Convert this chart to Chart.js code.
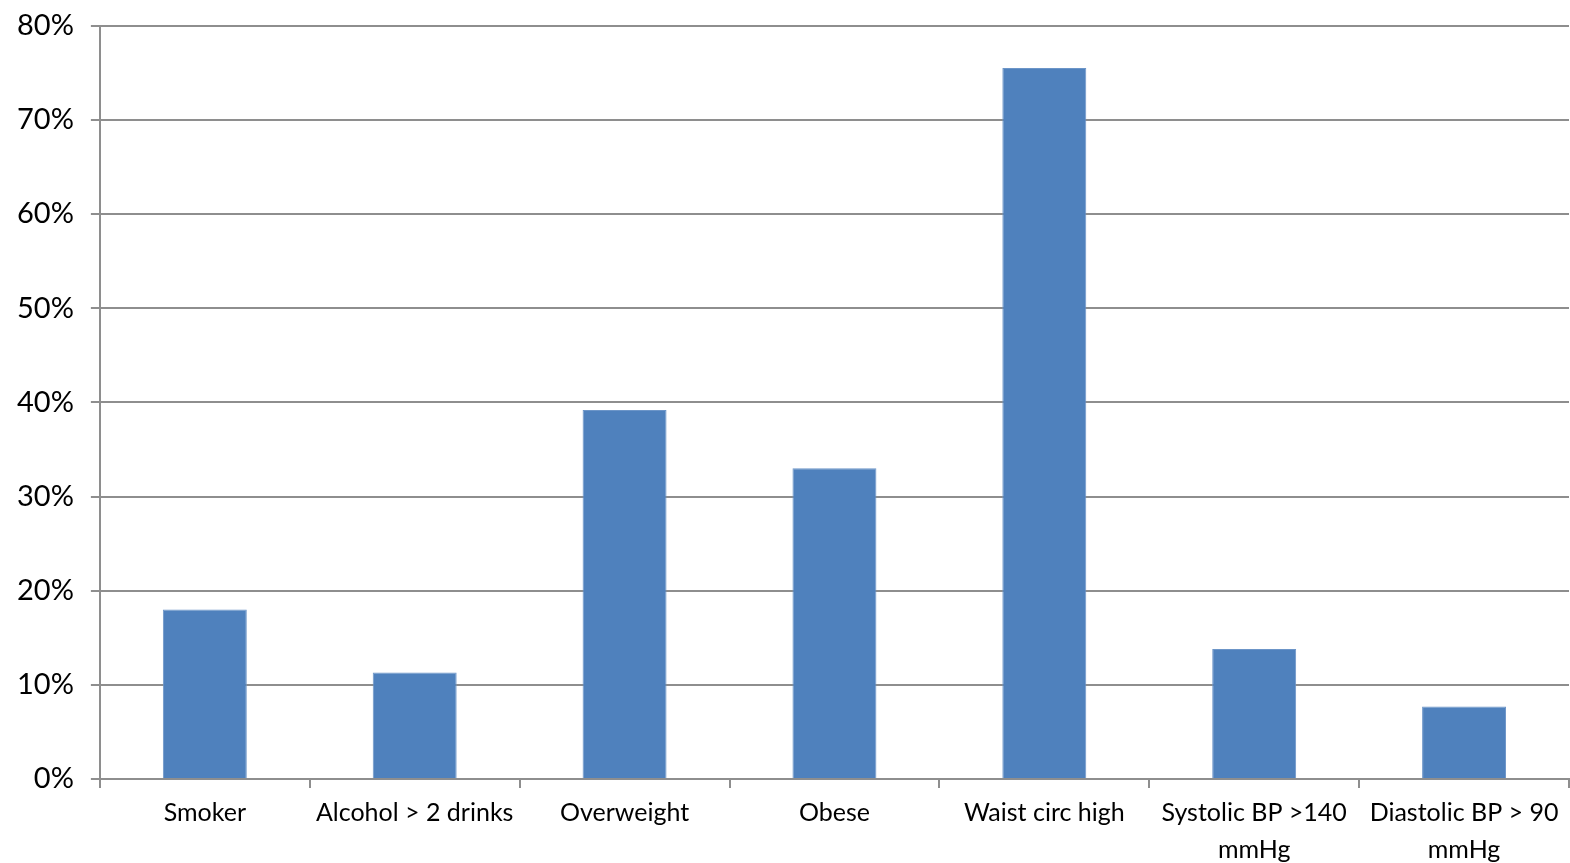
<!DOCTYPE html>
<html>
<head>
<meta charset="utf-8">
<script src="https://cdn.jsdelivr.net/npm/chart.js@4"></script>
<style>
  html, body { margin: 0; padding: 0; background: #fff; overflow: hidden; }
  #wrap { width: 1570px; height: 863px; position: relative; }
</style>
</head>
<body>
<div id="wrap"><canvas id="c"></canvas></div>
<script>
// Risk factor prevalence (%)
const categories = [
  'Smoker',
  'Alcohol > 2 drinks',
  'Overweight',
  'Obese',
  'Waist circ high',
  ['Systolic BP >140', 'mmHg'],
  ['Diastolic BP > 90', 'mmHg']
];
const prevalence = [18.0, 11.3, 39.2, 33.0, 75.5, 13.8, 7.7];
const yTicks = [0, 10, 20, 30, 40, 50, 60, 70, 80];

const gridGray = '#8e8e8e';
const fontFamily = 'Lato, "Open Sans", sans-serif';

new Chart(document.getElementById('c'), {
  type: 'bar',
  data: {
    labels: categories,
    datasets: [{
      data: prevalence,
      backgroundColor: '#4F81BD',
      borderColor: '#6c95c8',
      borderWidth: 1,
      categoryPercentage: 1.0,
      barPercentage: 0.4
    }]
  },
  options: {
    responsive: true,
    maintainAspectRatio: false,
    animation: false,
    layout: { padding: { top: 8, right: 1, bottom: -12, left: 0 } },
    plugins: { legend: { display: false }, tooltip: { enabled: false } },
    scales: {
      x: {
        offset: true,
        grid: {
          offset: true,
          drawOnChartArea: false,
          drawTicks: true,
          tickLength: 9,
          color: gridGray,
          lineWidth: 2
        },
        border: { color: gridGray, width: 2 },
        ticks: {
          color: '#000',
          font: { family: fontFamily, size: 25, lineHeight: 1.5 },
          maxRotation: 0,
          minRotation: 0,
          autoSkip: false,
          padding: 6
        }
      },
      y: {
        min: 0,
        max: 80,
        afterBuildTicks: (axis) => { axis.ticks = yTicks.map(v => ({ value: v })); },
        grid: {
          color: gridGray,
          lineWidth: 2,
          drawTicks: true,
          tickLength: 9
        },
        border: { color: gridGray, width: 2 },
        ticks: {
          color: '#000',
          font: { family: fontFamily, size: 29, lineHeight: 0.6 },
          padding: 17,
          callback: (v) => v + '%'
        }
      }
    }
  }
});
</script>
</body>
</html>
